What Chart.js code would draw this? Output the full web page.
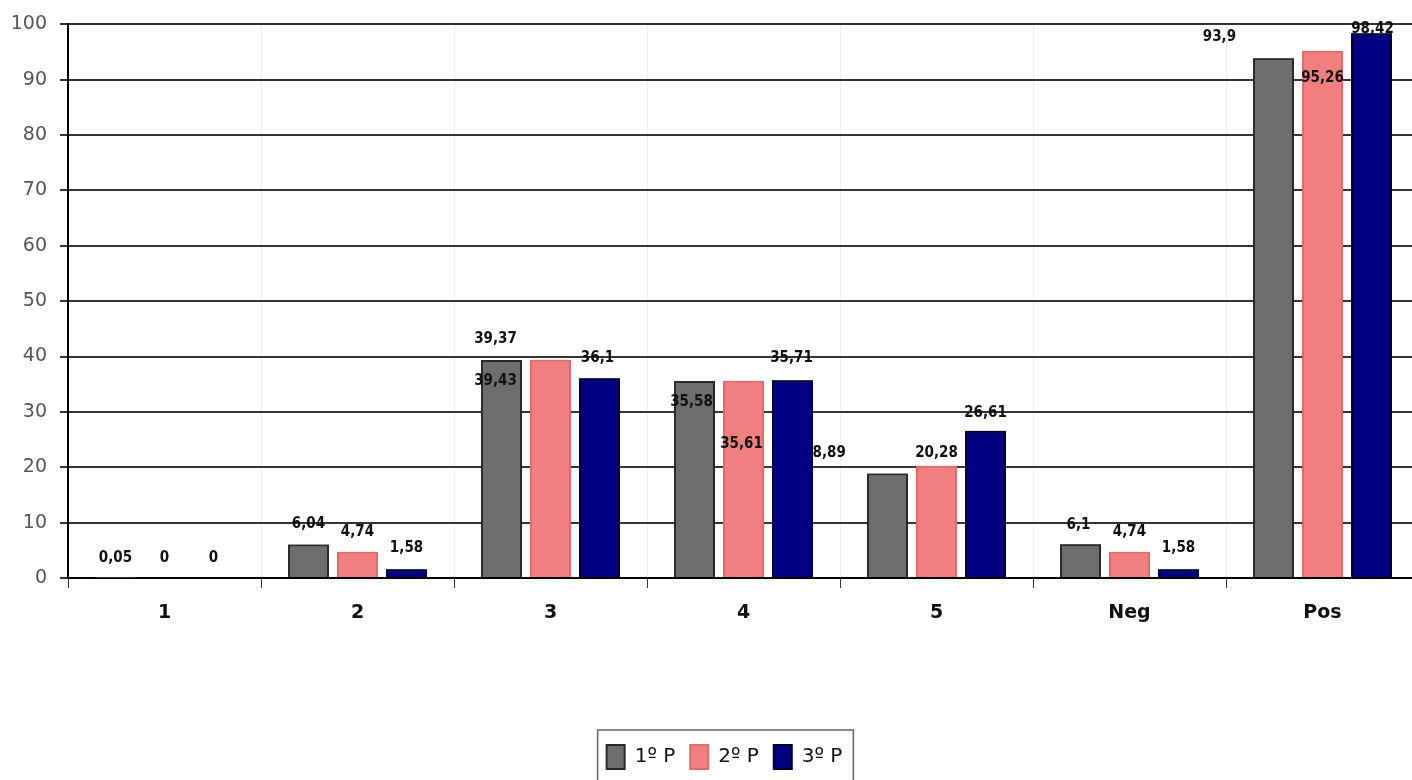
<!DOCTYPE html>
<html><head><meta charset="utf-8">
<script src="https://cdn.jsdelivr.net/npm/chart.js@4"></script>
<style>
html,body{margin:0;padding:0;background:#fff;overflow:hidden;}
#wrap{position:absolute;left:0;top:0;width:1420px;height:780px;}
</style></head><body>
<div id="wrap"><canvas id="c"></canvas></div>
<script>
const categories = ['1', '2', '3', '4', '5', 'Neg', 'Pos'];
const seriesNames = ['1º P', '2º P', '3º P'];
const p1 = [0.05, 6.04, 39.37, 35.58, 18.89, 6.1, 93.9];
const p2 = [0, 4.74, 39.43, 35.61, 20.28, 4.74, 95.26];
const p3 = [0, 1.58, 36.1, 35.71, 26.61, 1.58, 98.42];
const yTickValues = [0, 10, 20, 30, 40, 50, 60, 70, 80, 90, 100];

// label offsets (pixels, relative to bar top centre) mimicking the original placement
const labelOffsets = [
  [[0,-20],[0,-20],[-6,-21],[-3,21],[-63,-20],[-2,-19],[-54,-21]],
  [[0,-20],[0,-20],[-55,21],[-2,63],[0,-13],[0,-20],[0,27]],
  [[0,-20],[0,-21],[-2,-20],[-1,-22],[0,-18],[0,-21],[1,-4]]
];

const LEGEND_SHIFT = 15;

const valuePlugin = {
  id: 'valueLabels',
  afterUpdate(chart) {
    const lg = chart.legend;
    if (!lg) return;
    lg.left += LEGEND_SHIFT;
    lg.right += LEGEND_SHIFT;
    (lg.legendHitBoxes || []).forEach(h => { h.left += LEGEND_SHIFT; });
  },
  afterDatasetsDraw(chart) {
    const ctx = chart.ctx;
    ctx.save();
    chart.data.datasets.forEach((ds, di) => {
      const meta = chart.getDatasetMeta(di);
      meta.data.forEach(el => el.draw(ctx));
      ctx.font = 'bold 15px "DejaVu Sans Condensed", "DejaVu Sans"';
      ctx.fillStyle = '#111';
      ctx.textAlign = 'center';
      ctx.textBaseline = 'middle';
      meta.data.forEach((el, i) => {
        const off = labelOffsets[di][i];
        const txt = String(ds.data[i]).replace('.', ',');
        ctx.fillText(txt, el.x + off[0], el.y + off[1]);
      });
    });
    ctx.restore();
  },
  afterDraw(chart) {
    const boxes = chart.legend && chart.legend.legendHitBoxes;
    if (!boxes || !boxes.length) return;
    let l = Infinity, r = -Infinity, t = Infinity;
    boxes.forEach(h => { l = Math.min(l, h.left); r = Math.max(r, h.left + h.width); t = Math.min(t, h.top); });
    const ctx = chart.ctx;
    ctx.save();
    ctx.strokeStyle = '#666';
    ctx.lineWidth = 1.5;
    ctx.strokeRect(l - 9, t - 15, (r - l) + 20, 80);
    ctx.restore();
  }
};

new Chart(document.getElementById('c'), {
  type: 'bar',
  plugins: [valuePlugin],
  data: {
    labels: categories,
    datasets: [
      { label: seriesNames[0], data: p1, backgroundColor: '#6e6e6e', borderColor: '#2a2a2a', borderWidth: 2 },
      { label: seriesNames[1], data: p2, backgroundColor: '#f08080', borderColor: '#e26a6a', borderWidth: 2 },
      { label: seriesNames[2], data: p3, backgroundColor: '#000080', borderColor: '#000030', borderWidth: 2 }
    ]
  },
  options: {
    responsive: true,
    maintainAspectRatio: false,
    animation: false,
    layout: { padding: { top: 23, left: 0, right: 1, bottom: 1 } },
    plugins: {
      tooltip: { enabled: false },
      legend: {
        position: 'bottom',
        labels: {
          boxWidth: 18, boxHeight: 24, padding: 15,
          color: '#111',
          font: { family: '"DejaVu Sans"', size: 20 }
        }
      }
    },
    datasets: { bar: { categoryPercentage: 0.762, barPercentage: 0.837 } },
    scales: {
      x: {
        offset: true,
        grid: { offset: true, color: '#eeeeee', lineWidth: 1, tickColor: '#333', tickLength: 10, drawTicks: true },
        border: { color: '#000', width: 2 },
        ticks: { color: '#111', padding: 14, font: { family: '"DejaVu Sans"', size: 19, weight: 'bold' } },
        afterFit(scale) { scale.height = 152; }
      },
      y: {
        min: 0, max: 100,
        afterBuildTicks(scale) { scale.ticks = yTickValues.map(v => ({ value: v })); },
        grid: { color: '#333', lineWidth: 2, tickLength: 8, drawTicks: true },
        border: { color: '#000', width: 2 },
        ticks: { color: '#555', padding: 13, font: { family: '"DejaVu Sans"', size: 19 } },
        afterFit(scale) { scale.width = 68; }
      }
    }
  }
});
</script>
</body></html>
